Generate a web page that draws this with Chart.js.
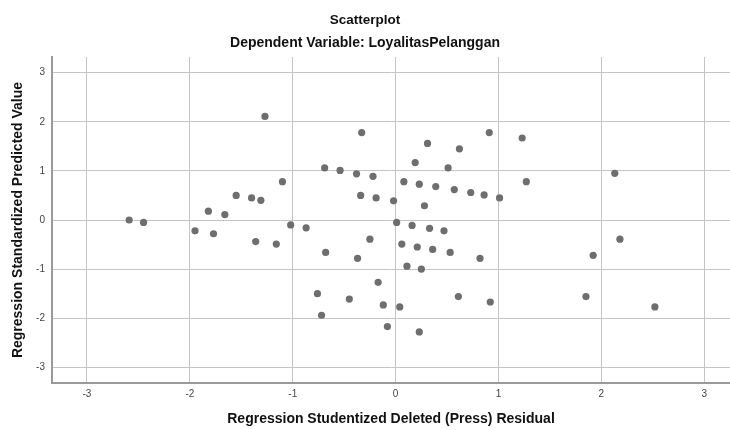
<!DOCTYPE html>
<html>
<head>
<meta charset="utf-8">
<script src="https://cdn.jsdelivr.net/npm/chart.js@4/dist/chart.umd.min.js"></script>
<style>
html,body{margin:0;padding:0;background:#fff;}
canvas{display:block;}
</style>
</head>
<body>
<canvas id="c" width="730" height="430"></canvas>
<script>
// ---- Data ----
const residualX = [
  -2.59, -2.45, -1.95, -1.82, -1.77, -1.66, -1.55, -1.40, -1.36, -1.31,
  -1.27, -1.16, -1.10, -1.02, -0.87, -0.76, -0.72, -0.69, -0.68, -0.54,
  -0.45, -0.38, -0.37, -0.34, -0.33, -0.25, -0.22, -0.19, -0.17, -0.12,
  -0.08, -0.02,  0.01,  0.04,  0.06,  0.08,  0.11,  0.16,  0.19,  0.21,
   0.23,  0.23,  0.25,  0.28,  0.31,  0.33,  0.36,  0.39,  0.47,  0.51,
   0.53,  0.57,  0.61,  0.62,  0.73,  0.82,  0.86,  0.91,  0.92,  1.01,
   1.23,  1.27,  1.85,  1.92,  2.13,  2.18,  2.52
];
const predictedY = [
   0.00, -0.05, -0.22,  0.18, -0.28,  0.11,  0.50,  0.45, -0.44,  0.40,
   2.11, -0.49,  0.78, -0.10, -0.16, -1.50, -1.94,  1.06, -0.66,  1.01,
  -1.61,  0.94, -0.78,  0.50,  1.78, -0.39,  0.89,  0.45, -1.27, -1.73,
  -2.17,  0.39, -0.05, -1.77, -0.49,  0.78, -0.94, -0.11,  1.17, -0.55,
   0.73, -2.28, -1.00,  0.29,  1.56, -0.17, -0.60,  0.68, -0.22,  1.06,
  -0.66,  0.62, -1.56,  1.45,  0.56, -0.78,  0.51,  1.78, -1.67,  0.45,
   1.67,  0.78, -1.56, -0.72,  0.95, -0.39, -1.77
];
const xTickValues = [-3, -2, -1, 0, 1, 2, 3];
const yTickValues = [-3, -2, -1, 0, 1, 2, 3];
const chartTitle = 'Scatterplot';
const chartSubtitle = 'Dependent Variable: LoyalitasPelanggan';
const xAxisTitle = 'Regression Studentized Deleted (Press) Residual';
const yAxisTitle = 'Regression Standardized Predicted Value';

const FONT = "'Liberation Sans', Arial, Helvetica, sans-serif";
const points = residualX.map((x, i) => ({ x: x, y: predictedY[i] }));

new Chart(document.getElementById('c'), {
  type: 'scatter',
  data: {
    datasets: [{
      data: points,
      backgroundColor: '#6e6e6e',
      borderWidth: 0,
      pointRadius: 3.6,
      pointHoverRadius: 3.6
    }]
  },
  options: {
    responsive: false,
    animation: false,
    devicePixelRatio: 1,
    layout: { padding: 0, autoPadding: false },
    plugins: {
      legend: { display: false },
      tooltip: { enabled: false },
      title: {
        display: true,
        text: chartTitle,
        color: '#111',
        font: { family: FONT, size: 13.5, weight: 'bold' },
        padding: { top: 12, bottom: 0 }
      },
      subtitle: {
        display: true,
        text: chartSubtitle,
        color: '#111',
        font: { family: FONT, size: 14, weight: 'bold' },
        padding: { top: 6.4, bottom: 5.6 }
      }
    },
    scales: {
      x: {
        type: 'linear',
        min: -3.34,
        max: 3.25,
        afterBuildTicks: s => { s.ticks = xTickValues.map(v => ({ value: v })); },
        afterFit: s => { s.height = 47; },
        grid: { color: '#c4c4c4', lineWidth: 1, drawTicks: false },
        border: { color: '#9a9a9a', width: 2 },
        ticks: {
          color: '#444', font: { family: FONT, size: 10 }, padding: 5,
          autoSkip: false, maxRotation: 0
        },
        title: {
          display: true, text: xAxisTitle, color: '#111',
          font: { family: FONT, size: 14, weight: 'bold' },
          padding: { top: 0, bottom: 2.8 }
        }
      },
      y: {
        type: 'linear',
        min: -3.32,
        max: 3.32,
        afterBuildTicks: s => { s.ticks = yTickValues.map(v => ({ value: v })); },
        afterFit: s => { s.width = 52; },
        grid: { color: '#c4c4c4', lineWidth: 1, drawTicks: false },
        border: { color: '#9a9a9a', width: 2 },
        ticks: {
          color: '#444', font: { family: FONT, size: 10 }, padding: 7,
          autoSkip: false
        },
        title: {
          display: true, text: yAxisTitle, color: '#111',
          font: { family: FONT, size: 14, weight: 'bold' },
          padding: { top: 9.6, bottom: 0 }
        }
      }
    }
  }
});
</script>
</body>
</html>
